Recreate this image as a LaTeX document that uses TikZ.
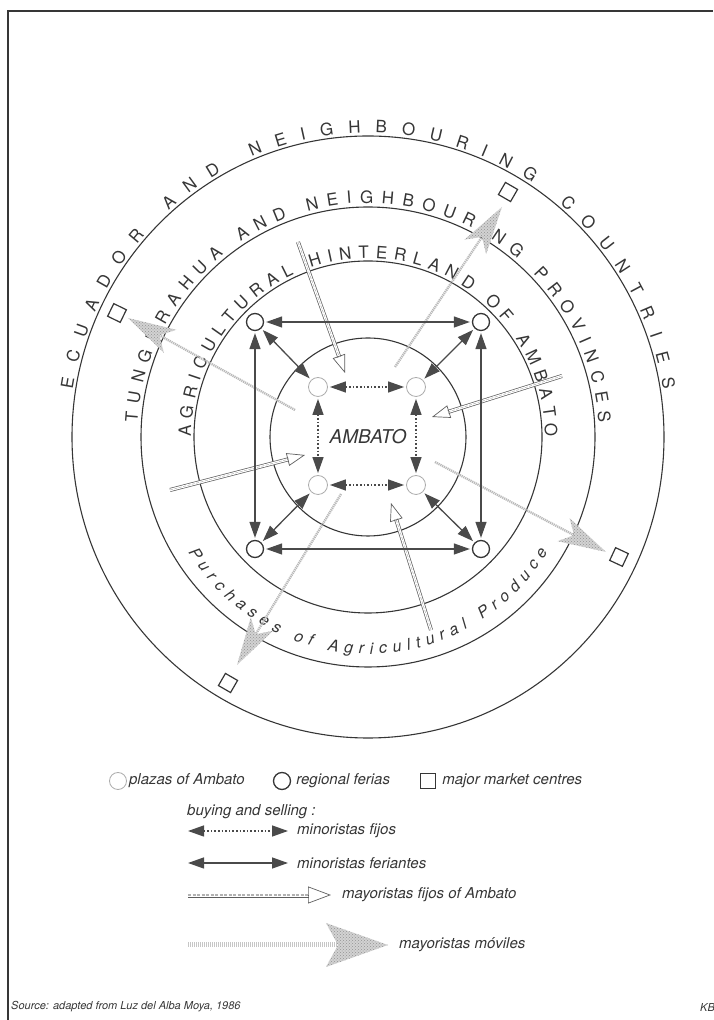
\documentclass[tikz,border=0pt]{standalone}
\usepackage{fontspec}
\newfontfamily\legendfont{TeX Gyre Heros}
\usepackage{tikz}
\usetikzlibrary{positioning, arrows.meta, calc, decorations.text, patterns}
\definecolor{ink}{HTML}{363636}
\definecolor{tipgray}{HTML}{4A4A4A}
\newcommand\ringfont{\fontsize{17}{17}\selectfont\legendfont}
\newcommand\purfont{\fontsize{16}{16}\selectfont\legendfont\itshape}
\newcommand\legfont{\fontsize{15}{17}\selectfont\legendfont\itshape}

\begin{document}
\begin{tikzpicture}[x=1pt, y=1pt, >={Triangle[length=16pt,width=11pt]},
  ring/.style={draw=ink, line width=1.1pt},
  feria/.style={circle, draw=ink, line width=1.3pt, minimum size=17pt, inner sep=0pt},
  plaza/.style={circle, draw=gray!65, line width=0.8pt, minimum size=19pt, inner sep=0pt},
  market/.style={rectangle, draw=ink, line width=1.2pt, minimum size=14pt, inner sep=0pt},
  feriante/.style={<->, draw=tipgray, line width=1.3pt, shorten <=2pt, shorten >=2pt},
  fijos/.style={feriante, dash pattern=on 1.6pt off 2pt},
  mayor/.style={draw=ink!80, line width=0.7pt, double=white, double distance=2.6pt, shorten >=17pt},
  mayorhead/.style={-{Triangle[open, length=18pt, width=13pt]}, draw=ink!80, line width=0.7pt},
  movil/.style={draw=gray!55, line width=2.4pt, dash pattern=on 1.2pt off 0.8pt},
  movilhead/.style={pattern=crosshatch dots, pattern color=gray!85, preaction={fill=gray!35}},
  legtext/.style={font=\legfont, text=ink, inner sep=1pt}]
\useasboundingbox (0,0) rectangle (713,1020);
\draw[ink, line width=1.2pt] (8,0) -- (8,1009) -- (713,1009);

\coordinate (C) at (368,583);
% rings
\draw[ring] (C) ellipse[x radius=296, y radius=301];
\draw[ring] (C) ellipse[x radius=227, y radius=230];
\draw[ring] (C) ellipse[x radius=174, y radius=176];
\draw[ring] (C) ellipse[x radius=98, y radius=99];

% ring labels
\path[decorate, decoration={text along path, text align=fit to path,
  text={|\ringfont\color{ink}|ECUADOR AND NEIGHBOURING COUNTRIES}}]
  ($(C)+(171:299 and 304)$) arc[start angle=171, end angle=9, x radius=299, y radius=304];
\path[decorate, decoration={text along path, text align=fit to path,
  text={|\ringfont\color{ink}|TUNGURAHUA AND NEIGHBOURING PROVINCES}}]
  ($(C)+(176.5:231 and 234)$) arc[start angle=176.5, end angle=3.5, x radius=231, y radius=234];
\path[decorate, decoration={text along path, text align=fit to path,
  text={|\ringfont\color{ink}|AGRICULTURAL HINTERLAND OF AMBATO}}]
  ($(C)+(180:177 and 179)$) arc[start angle=180, end angle=0, x radius=177, y radius=179];
\path[decorate, decoration={text along path, text align=fit to path,
  text={|\purfont\color{ink}|Purchases of Agricultural Produce}}]
  ($(C)+(212:212 and 217)$) arc[start angle=212, end angle=328, x radius=212, y radius=217];

% major market centres
\node[market, rotate=60] (sq1) at (508,828) {};
\node[market, rotate=154] (sq2) at (117,707) {};
\node[market, rotate=-25] (sq3) at (619,463) {};
\node[market, rotate=-120] (sq4) at (228,337) {};

% mayoristas moviles
\coordinate (m1s) at (395,653); \coordinate (m1e) at (502,813);
\coordinate (m2s) at (295,610); \coordinate (m2e) at (128,702);
\coordinate (m3s) at (435,558); \coordinate (m3e) at (606,468);
\coordinate (m4s) at (341,526); \coordinate (m4e) at (237,355);
\foreach \s/\e in {m1s/m1e, m2s/m2e, m3s/m3e, m4s/m4e} {
  \draw[movil] (\s) -- ($(\e)!36pt!(\s)$);
  \fill[movilhead] (\e) -- ($($(\e)!48pt!(\s)$)!13pt!90:(\e)$) -- ($(\e)!36pt!(\s)$)
    -- ($($(\e)!48pt!(\s)$)!13pt!-90:(\e)$) -- cycle;
}

% mayoristas fijos
\coordinate (f1s) at (298,778); \coordinate (f1e) at (345,647);
\coordinate (f2s) at (562,644); \coordinate (f2e) at (432,603);
\coordinate (f3s) at (170,530); \coordinate (f3e) at (305,565);
\coordinate (f4s) at (431,390); \coordinate (f4e) at (391,517);
\foreach \s/\e in {f1s/f1e, f2s/f2e, f3s/f3e, f4s/f4e} {
  \draw[mayor] (\s) -- (\e);
  \draw[gray!60, line width=0.5pt, dash pattern=on 3pt off 1.5pt, shorten >=18pt] (\s) -- (\e);
  \draw[mayorhead] ($(\e)!18pt!(\s)$) -- (\e);
}

% regional ferias and plazas
\node[feria] (ftl) at (255,698) {};
\node[feria] (ftr) at (481,698) {};
\node[feria] (fbl) at (255,471) {};
\node[feria] (fbr) at (481,471) {};
\node[plaza] (ptl) at (318,633) {};
\node[plaza] (ptr) at (416,633) {};
\node[plaza] (pbl) at (318,535) {};
\node[plaza] (pbr) at (416,535) {};
\node[font=\fontsize{19}{19}\selectfont\legendfont\itshape, text=ink] (amb) at (C) {AMBATO};

\draw[feriante] (ftl) -- (ftr);
\draw[feriante] (fbl) -- (fbr);
\draw[feriante] (ftl) -- (fbl);
\draw[feriante] (ftr) -- (fbr);
\draw[feriante] (ftl) -- (ptl);
\draw[feriante] (ftr) -- (ptr);
\draw[feriante] (fbl) -- (pbl);
\draw[feriante] (fbr) -- (pbr);
\draw[fijos] (ptl) -- (ptr);
\draw[fijos] (pbl) -- (pbr);
\draw[fijos] (ptl) -- (pbl);
\draw[fijos] (ptr) -- (pbr);

% legend
\node[plaza, minimum size=17pt] (lp) at (118,239) {};
\node[legtext, right=1pt of lp] (lpt) {plazas of Ambato};
\node[feria] (lf) at (282,239) {};
\node[legtext, right=4pt of lf] (lft) {regional ferias};
\node[market, minimum size=15pt] (lm) at (428,239) {};
\node[legtext, right=5pt of lm] (lmt) {major market centres};
\node[legtext, anchor=west] (buy) at (186,208) {buying and selling :};
\coordinate (la1) at (188,189); \coordinate (lb1) at (288,189);
\draw[fijos, shorten <=0pt, shorten >=0pt] (la1) -- (lb1);
\node[legtext, right=8pt of lb1] (lt1) {minoristas fijos};
\coordinate (la2) at (188,157); \coordinate (lb2) at (288,157);
\draw[feriante, shorten <=0pt, shorten >=0pt] (la2) -- (lb2);
\node[legtext, right=8pt of lb2] (lt2) {minoristas feriantes};
\coordinate (la3) at (188,125); \coordinate (lb3) at (331,125);
\draw[mayor, double distance=5pt, shorten >=22pt] (la3) -- (lb3);
\draw[gray!60, line width=1.5pt, dash pattern=on 3pt off 1.5pt, shorten >=23pt] (la3) -- (lb3);
\draw[mayorhead, -{Triangle[open, length=23pt, width=17pt]}] ($(lb3)!23pt!(la3)$) -- (lb3);
\node[legtext, right=10pt of lb3] (lt3) {mayoristas fijos of Ambato};
\coordinate (la4) at (188,75); \coordinate (lb4) at (388,75);
\draw[movil, line width=5pt, draw=gray!45] (la4) -- ($(lb4)!50pt!(la4)$);
\fill[movilhead] (lb4) -- ($($(lb4)!62pt!(la4)$)!22pt!90:(lb4)$) -- ($(lb4)!50pt!(la4)$)
  -- ($($(lb4)!62pt!(la4)$)!22pt!-90:(lb4)$) -- cycle;
\node[legtext, right=10pt of lb4] (lt4) {mayoristas móviles};

\node[font=\fontsize{11}{12}\selectfont\legendfont\itshape, text=ink, anchor=west, inner sep=0pt] (src) at (11,13) {Source: adapted from Luz del Alba Moya, 1986};
\node[font=\fontsize{11}{12}\selectfont\legendfont\itshape, text=ink, anchor=west, inner sep=0pt] (kb) at (700,13) {KB};
\end{tikzpicture}
\end{document}
